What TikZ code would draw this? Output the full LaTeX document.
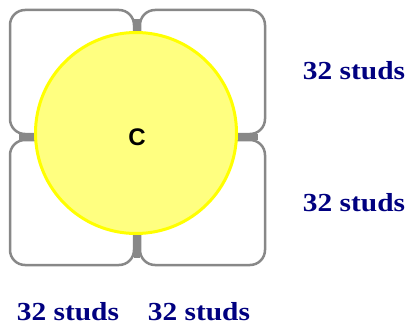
\documentclass[tikz,border=0pt]{standalone}
\usepackage{fontspec}
\setmainfont{Liberation Serif}
\newfontfamily\arialfont{Liberation Sans}
\definecolor{framegray}{HTML}{888888}
\definecolor{circfill}{HTML}{FFFF80}
\definecolor{circline}{HTML}{FFFF00}
\definecolor{studnavy}{HTML}{000080}
\begin{document}
\begin{tikzpicture}[x=1pt,y=-1pt,
  quad/.style={draw=framegray,line width=2.5pt,rounded corners=15pt},
  crossbar/.style={draw=framegray,line width=6pt},
  studlabel/.style={text=studnavy,font=\fontsize{26}{26}\selectfont\bfseries,anchor=base,inner sep=0pt,xscale=1.13}]
\useasboundingbox[fill=white] (0,0) rectangle (409,329);
% four quadrant plates
\draw[quad] (10,10) rectangle (134,134);
\draw[quad] (140,10) rectangle (265,134);
\draw[quad] (10,140) rectangle (134,265);
\draw[quad] (140,140) rectangle (265,265);
% cross joining the plates
\coordinate (ctop) at (137,19);
\coordinate (cbot) at (137,258);
\coordinate (cleft) at (19,137);
\coordinate (cright) at (258,137);
\draw[crossbar] (ctop) -- (cbot);
\draw[crossbar] (cleft) -- (cright);
% central circle
\node[circle,draw=circline,fill=circfill,line width=3pt,minimum size=201pt,inner sep=0pt] (circ) at (136,133) {};
\node[font=\arialfont\bfseries\fontsize{24}{24}\selectfont,inner sep=0pt] (c) at (137,137) {C};
% labels
\node[studlabel] (l1) at (354,79) {32 studs};
\node[studlabel] (l2) at (354,211) {32 studs};
\node[studlabel] (l3) at (68,320) {32 studs};
\node[studlabel] (l4) at (199,320) {32 studs};
\end{tikzpicture}
\end{document}
